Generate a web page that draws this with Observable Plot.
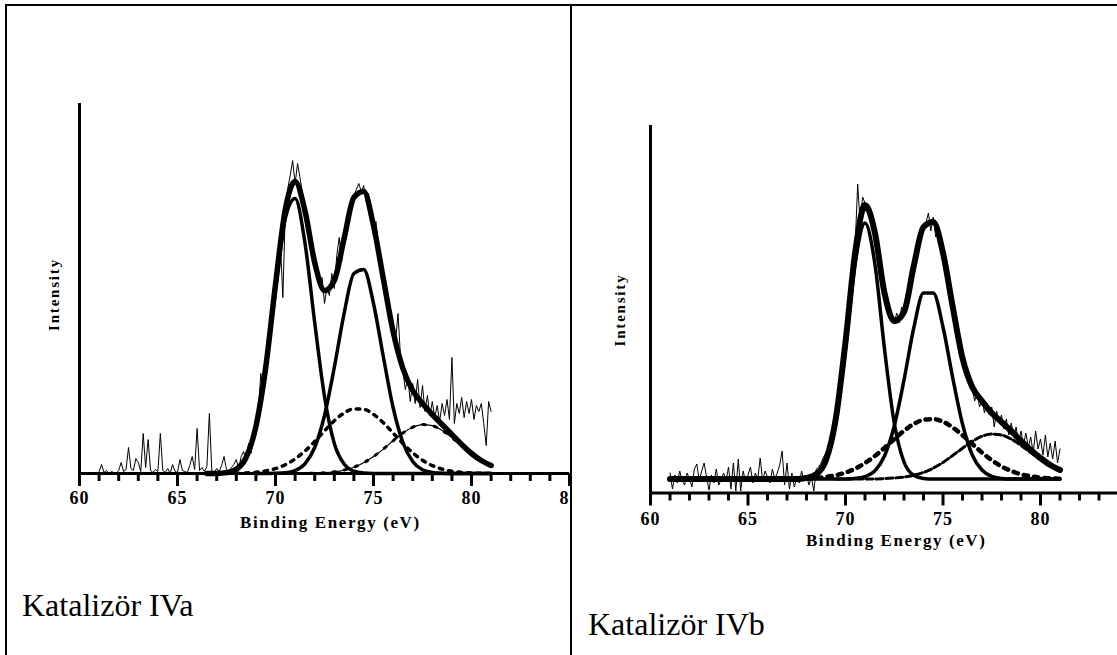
<!DOCTYPE html>
<html><head><meta charset="utf-8">
<script src="https://cdn.jsdelivr.net/npm/d3@7"></script>
<script src="https://cdn.jsdelivr.net/npm/@observablehq/plot@0.6"></script>
<style>
html,body{margin:0;padding:0;background:#fff;}
#page{position:relative;width:1117px;height:655px;overflow:hidden;background:#fff;}
.bline{position:absolute;background:#000;}
.cell{position:absolute;overflow:hidden;}
.cap{position:absolute;font-family:"Liberation Serif","Times New Roman",serif;font-size:32px;line-height:32px;color:#000;white-space:nowrap;}
</style></head>
<body>
<div id="page">
  <div class="bline" style="left:5px;top:4px;width:1112px;height:2px"></div>
  <div class="bline" style="left:5px;top:4px;width:2px;height:651px"></div>
  <div class="bline" style="left:570px;top:4px;width:2px;height:651px"></div>
  <div class="cell" id="cellA" style="left:7px;top:6px;width:563px;height:649px"></div>
  <div class="cell" id="cellB" style="left:572px;top:6px;width:545px;height:649px"></div>
  <div class="cap" id="capA" style="left:22px;top:589px"></div>
  <div class="cap" id="capB" style="left:588px;top:608px"></div>
</div>
<script>
// ---------- labels ----------
const panelTitles = ["Katalizör IVa", "Katalizör IVb"];
const xLabel = "Binding Energy (eV)";
const yLabel = "Intensity";
const majorTicks = [60, 65, 70, 75, 80, 85];
const minorTicks = [61,62,63,64,66,67,68,69,71,72,73,74,76,77,78,79,81,82,83,84];

// ---------- fitted curves, sampled on this energy grid (eV) ----------
const energyGrid = [61,61.5,62,62.5,63,63.5,64,64.5,65,65.5,66,66.5,67,67.5,68,68.5,69,69.5,70,70.5,71,71.5,72,72.5,73,73.5,74,74.5,75,75.5,76,76.5,77,77.5,78,78.5,79,79.5,80,80.5,81];

// Panel A (IVa)
const envelopeA = [null,null,null,null,null,null,null,null,null,null,null,
  0,0.1,0.9,4.3,16,47,106,189,264,292,263,211,183,193,235,276,282,248,195,142,105,83,70,59,49,39,29,20,13,8];
const peak1A = [null,null,null,null,null,null,null,null,null,null,null,
  0,0.1,0.9,4.1,15.5,45,104,184,255,275,231,151,77,30,9.4,2.3,0.4,0,0,0,0,0,0,0,0,0,0,0,0,0];
const peak2A = [null,null,null,null,null,null,null,null,null,null,null,null,null,null,null,null,
  0,0,0.15,0.7,2.9,9.6,26,58,106,160,200,204,170,117,66,31,12,3.7,1,0.2,0,0,0,0,0];
const peak3A = [null,null,null,null,null,null,null,null,null,null,null,null,
  0,0.1,0.2,0.6,1.2,2.6,4.9,8.8,14.6,22.4,32,42.6,52.7,60.5,64.6,64.2,59.2,50.8,40.5,30,20.7,13.2,7.9,4.4,2.2,1.1,0.5,0.2,0.1];
const peak4A = [null,null,null,null,null,null,null,null,null,null,null,null,null,null,null,null,null,null,
  0,0,0.05,0.15,0.35,0.8,1.7,3.45,6.3,10.8,16.9,24.4,32.7,40.5,46.3,48.9,47.8,43.1,36,27.7,19.7,13,7.9];

// Panel B (IVb)
const envelopeB = [14,14,14,14,14,14,14,14,14,14,14,14,14,14,
  15.1,18.8,33,74,151,241,288,261,200,172,181,227,266,271,240,186,135,106,92,80,71,62,52,43,35,28,23];
const peak1B = [null,null,null,null,null,null,null,null,null,null,
  14,14,14,14,14.6,17.7,31,70,144,230,270,230,144,70,31,17.7,14.6,14,14,14,14,14,14,14,14,14,14,14,14,14,14];
const peak2B = [null,null,null,null,null,null,null,null,null,null,null,null,null,null,
  14,14,14,14,14.1,14.6,16.4,22,37,67,113,165,200,200,166,115,69,38,23,16.5,14.6,14,14,14,14,14,14];
const peak3B = [null,null,null,null,null,null,null,null,null,null,null,null,null,null,
  14.5,15,16,17.7,20.4,24.4,29.9,36.9,45.1,53.9,62.2,69,73.1,73.9,71.2,65.5,57.7,49,40.4,32.8,26.6,22,18.7,16.7,15.4,14.7,14.3];
const peak4B = [null,null,null,null,null,null,null,null,null,null,null,null,null,null,null,null,null,
  14,14,14,14,14.1,14.4,15,16,17.8,20.6,24.9,30.6,37.5,44.8,51.6,56.7,58.9,58,53.9,47.7,40.4,33.2,27,22.2];

// ---------- measured spectra: 61 eV to 81 eV, every 0.125 eV ----------
const rawStart = 61, rawStep = 0.125;
const rawA = [
  2,9,1,3,0,2,1,0,
  3,11,2,4,26,5,3,15,
  11,2,40,6,34,3,1,4,
  2,40,3,1,5,0,9,2,
  1,14,3,2,1,8,17,4,
  45,3,6,2,7,60,3,1,
  5,2,8,17,4,2,6,9,
  14,5,17,22,12,30,20,38,
  46,62,100,78,105,122,140,168,
  186,212,230,176,262,285,298,313,
  290,310,296,280,268,250,242,225,
  214,200,188,196,170,186,178,200,
  185,218,236,212,236,250,262,270,
  278,284,290,282,288,272,280,256,
  238,252,230,216,200,188,168,160,
  144,132,160,118,102,84,96,72,
  90,70,94,66,88,62,78,58,
  72,56,68,52,70,58,74,54,
  116,50,70,60,76,56,72,60,
  74,54,68,62,70,50,28,72,
  62];
const rawB = [
  20,4,18,10,22,12,8,20,
  14,6,24,29,12,22,30,16,
  3,18,10,24,8,14,20,12,
  26,4,30,2,34,2,22,12,
  18,26,10,20,14,35,12,22,
  16,10,24,14,20,28,42,8,
  30,4,20,6,16,10,22,12,
  18,8,16,2,24,26,30,36,
  40,44,54,58,78,96,118,138,
  150,178,200,226,250,309,270,296,
  290,282,284,272,262,250,230,220,
  196,194,176,178,170,180,170,186,
  178,196,206,214,226,238,250,262,
  266,270,280,262,276,256,268,244,
  236,226,210,196,180,168,150,146,
  134,124,116,108,104,92,100,86,
  94,80,90,78,86,66,82,70,
  78,64,74,58,70,56,66,50,
  62,48,60,46,56,40,62,44,
  54,38,58,36,50,34,52,30,
  44];

const xDomain = [60, 85];
const yTopA = 370, yTopB = 367.5;
const minorTickLen = 8, majorTickLen = 13;
const marginTop = 10, marginBottom = 60 - majorTickLen;   // frame reaches down to the tick ends

function panel(cfg) {
  const rawE = cfg.raw.map((_, i) => rawStart + i * rawStep);
  const serif = "Liberation Serif";
  const innerH = cfg.height - marginTop - marginBottom;
  const unit = (cfg.yTop + majorTickLen) / innerH;   // data units per pixel (1 here)
  const minorRows = minorTicks.map(e => ({e, top: 0, bottom: -minorTickLen * unit}));
  const majorRows = majorTicks.map(e => ({e, top: 0, bottom: -majorTickLen * unit}));
  const marks = [
    Plot.line(cfg.raw, {x: rawE, y: cfg.raw, stroke: "#000", strokeWidth: 1}),
    Plot.line(energyGrid, {x: energyGrid, y: cfg.p3, stroke: "#000", strokeWidth: cfg.s3w, strokeDasharray: cfg.s3d, curve: "monotone-x"}),
  ];
  if (cfg.thinP4) marks.push(Plot.line(energyGrid, {x: energyGrid, y: cfg.p4, stroke: "#000", strokeWidth: 1.2, curve: "monotone-x"}));
  marks.push(
    Plot.line(energyGrid, {x: energyGrid, y: cfg.p4, stroke: "#000", strokeWidth: cfg.s4w, strokeDasharray: cfg.s4d, curve: "monotone-x"}),
    Plot.line(energyGrid, {x: energyGrid, y: cfg.p1, stroke: "#000", strokeWidth: 3.5, curve: "monotone-x"}),
    Plot.line(energyGrid, {x: energyGrid, y: cfg.p2, stroke: "#000", strokeWidth: 3.5, curve: "monotone-x"}),
    Plot.line(energyGrid, {x: energyGrid, y: cfg.env, stroke: "#000", strokeWidth: cfg.envW, curve: "monotone-x"}),
    Plot.ruleY([0], {stroke: "#000", strokeWidth: 3}),
    Plot.ruleX([60], {y1: 0, y2: cfg.yTop, stroke: "#000", strokeWidth: 3}),
    Plot.ruleX(minorRows, {x: "e", y1: "top", y2: "bottom", stroke: "#000", strokeWidth: 3}),
    Plot.ruleX(majorRows, {x: "e", y1: "top", y2: "bottom", stroke: "#000", strokeWidth: 3}),
    Plot.text(majorTicks, {x: d => d, text: d => String(d), frameAnchor: "bottom", lineAnchor: "middle", textAnchor: "middle",
      dy: cfg.tickDy - majorTickLen, fontSize: 18, fontWeight: "bold", fontFamily: serif, fill: "#000"}),
    Plot.text([xLabel], {x: [cfg.labelE], text: d => d, frameAnchor: "bottom", lineAnchor: "middle", textAnchor: "middle",
      dy: cfg.labelDy - majorTickLen, fontSize: 17, fontWeight: "bold", fontFamily: serif, fill: "#000"}),
    Plot.text([yLabel], {x: [60], y: [cfg.intensY], text: d => d, rotate: -90, lineAnchor: "middle", textAnchor: "middle",
      dx: cfg.intensDx, fontSize: 15, fontWeight: "bold", fontFamily: serif, fill: "#000"})
  );
  const svg = Plot.plot({
    width: cfg.width, height: cfg.height,
    marginLeft: 60, marginRight: 20, marginTop, marginBottom,
    x: {domain: xDomain, axis: null, label: null},
    y: {domain: [-majorTickLen * 1, cfg.yTop], axis: null, label: null},
    style: {fontFamily: serif, color: "#000", background: "transparent", overflow: "visible"},
    marks
  });
  svg.querySelectorAll("text").forEach(t => {
    const s = t.textContent;
    if (s === xLabel) t.style.letterSpacing = "1.6px";
    else if (s === yLabel) t.style.letterSpacing = "1.8px";
    else if (/^\d+$/.test(s)) t.style.letterSpacing = "1px";
  });
  svg.style.position = "absolute";
  svg.style.maxWidth = "none";
  svg.style.width = cfg.width + "px";
  svg.style.height = cfg.height + "px";
  svg.style.left = cfg.left + "px";
  svg.style.top = cfg.top + "px";
  return svg;
}

document.getElementById("cellA").appendChild(panel({
  raw: rawA, env: envelopeA, p1: peak1A, p2: peak2A, p3: peak3A, p4: peak4A,
  s3w: 3.5, s3d: "3.5,6", s4w: 3, s4d: "2.5,9", thinP4: true, envW: 5.5,
  width: 570, height: 440, yTop: yTopA, left: 12, top: 87,
  tickDy: 25, labelE: 72.8, labelDy: 49, intensY: 179, intensDx: -25
}));
document.getElementById("cellB").appendChild(panel({
  raw: rawB, env: envelopeB, p1: peak1B, p2: peak2B, p3: peak3B, p4: peak4B,
  s3w: 4.5, s3d: "4.5,6", s4w: 3, s4d: "7,3", thinP4: false, envW: 6,
  width: 567.5, height: 437.5, yTop: yTopB, left: 18, top: 108.5,
  tickDy: 26, labelE: 72.6, labelDy: 48, intensY: 183, intensDx: -30
}));
document.getElementById("capA").textContent = panelTitles[0];
document.getElementById("capB").textContent = panelTitles[1];
</script>
</body></html>
